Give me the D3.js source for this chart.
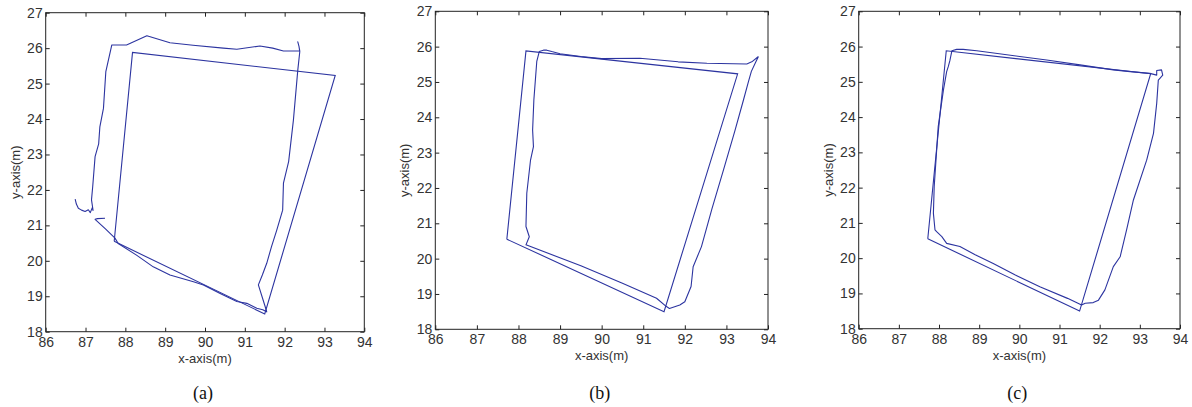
<!DOCTYPE html>
<html>
<head>
<meta charset="utf-8">
<script src="https://cdn.jsdelivr.net/npm/d3@7"></script>
<style>
  body { margin: 0; background: #fff; }
  svg { display: block; }
</style>
</head>
<body>
<div id="chart"></div>
<script>
// axis ticks (same for the three panels)
var xTicks = [86, 87, 88, 89, 90, 91, 92, 93, 94];
var yTicks = [18, 19, 20, 21, 22, 23, 24, 25, 26, 27];
var panelLabels = ["(a)", "(b)", "(c)"];

// reference quadrilateral, drawn in every panel
var refPath = [[87.72, 20.55], [88.18, 25.88], [93.27, 25.23], [91.5, 18.5], [87.72, 20.55]];

// estimated trajectory (a)
var estA = [
  [86.74, 21.74], [86.77, 21.6], [86.82, 21.48], [86.9, 21.43], [86.99, 21.39], [87.07, 21.44],
  [87.12, 21.36], [87.17, 21.5], [87.19, 21.42], [87.15, 21.72], [87.18, 22.09], [87.24, 22.94],
  [87.33, 23.3], [87.36, 23.78], [87.45, 24.3], [87.51, 25.34], [87.66, 26.09], [88.03, 26.09],
  [88.54, 26.35], [89.12, 26.15], [89.7, 26.08], [90.46, 26.0], [90.8, 25.97], [91.38, 26.06],
  [91.7, 26.0], [91.97, 25.92], [92.38, 25.92], [92.36, 26.05], [92.33, 26.18], [92.36, 26.05],
  [92.38, 25.9], [92.33, 25.38], [92.22, 23.97], [92.1, 22.8], [91.97, 22.19], [91.95, 21.43],
  [91.8, 20.86], [91.67, 20.4], [91.55, 19.93], [91.44, 19.6], [91.34, 19.32], [91.51, 18.71],
  [91.55, 18.56], [91.45, 18.62], [91.3, 18.66], [91.05, 18.8], [90.8, 18.85], [90.38, 19.08],
  [89.96, 19.32], [89.71, 19.41], [89.12, 19.6], [88.7, 19.83], [88.28, 20.16], [87.82, 20.49],
  [87.74, 20.64], [87.5, 20.9], [87.24, 21.17], [87.3, 21.19], [87.49, 21.2]
];

// estimated trajectory (b)
var estB = [
  [93.77, 25.72], [93.7, 25.55], [93.6, 25.3], [93.53, 25.01], [93.41, 24.49], [93.2, 23.6],
  [92.93, 22.51], [92.65, 21.4], [92.4, 20.34], [92.2, 19.77], [92.15, 19.21], [92.0, 18.78],
  [91.88, 18.69], [91.63, 18.59], [91.55, 18.65], [91.32, 18.88], [90.5, 19.3], [89.5, 19.8],
  [88.18, 20.39], [88.26, 20.62], [88.18, 20.91], [88.2, 21.85], [88.29, 22.79], [88.36, 23.17],
  [88.34, 23.64], [88.37, 24.49], [88.44, 25.58], [88.5, 25.86], [88.6, 25.9], [88.68, 25.9],
  [88.8, 25.86], [89.0, 25.8], [89.5, 25.72], [90.0, 25.66], [90.92, 25.67], [91.84, 25.57],
  [92.53, 25.53], [93.49, 25.51], [93.61, 25.57], [93.77, 25.72]
];

// estimated trajectory (c)
var estC = [
  [91.55, 18.67], [91.2, 18.86], [90.51, 19.19], [89.9, 19.52], [89.35, 19.85], [88.9, 20.1],
  [88.52, 20.33], [88.19, 20.42], [88.07, 20.61], [87.94, 20.75], [87.9, 20.8], [87.86, 21.27],
  [87.88, 22.03], [87.93, 22.88], [87.98, 23.73], [88.11, 24.77], [88.19, 25.29], [88.23, 25.43],
  [88.27, 25.6], [88.32, 25.88], [88.44, 25.92], [88.6, 25.92], [88.94, 25.88], [90.68, 25.62],
  [91.51, 25.48], [92.34, 25.34], [92.76, 25.29], [93.25, 25.24], [93.42, 25.19], [93.42, 25.32],
  [93.54, 25.34], [93.57, 25.19], [93.5, 25.1], [93.46, 25.05], [93.42, 24.39], [93.34, 23.54],
  [93.17, 22.78], [92.84, 21.65], [92.67, 20.8], [92.51, 20.04], [92.34, 19.76], [92.13, 19.1],
  [91.97, 18.81], [91.84, 18.74], [91.64, 18.72], [91.55, 18.67]
];

var estimates = [estA, estB, estC];

// plot boxes of the three panels, in page pixels
var boxes = [
  {left: 45.7, right: 364.3, top: 12.7, bottom: 331.7},
  {left: 435.3, right: 768, top: 11.3, bottom: 329.3},
  {left: 858.7, right: 1180, top: 11.3, bottom: 328.7}
];

var svg = d3.select("#chart")
  .append("svg")
    .attr("width", 1192)
    .attr("height", 407);

var lineColor = "#2c34a0";

boxes.forEach(function(b, i) {
  var x = d3.scaleLinear().domain([86, 94]).range([b.left, b.right]);
  var y = d3.scaleLinear().domain([18, 27]).range([b.bottom, b.top]);
  var g = svg.append("g");

  // inward ticks on all four sides
  g.append("g")
      .attr("transform", "translate(0," + b.bottom + ")")
      .call(d3.axisBottom(x).tickValues(xTicks).tickSize(-4).tickPadding(5).tickFormat(d3.format("d")));
  g.append("g")
      .attr("transform", "translate(" + b.left + ",0)")
      .call(d3.axisLeft(y).tickValues(yTicks).tickSize(-4).tickPadding(3).tickFormat(d3.format("d")));
  g.append("g")
      .attr("transform", "translate(0," + b.top + ")")
      .call(d3.axisTop(x).tickValues(xTicks).tickSize(-4).tickFormat(""));
  g.append("g")
      .attr("transform", "translate(" + b.right + ",0)")
      .call(d3.axisRight(y).tickValues(yTicks).tickSize(-4).tickFormat(""));

  g.selectAll(".domain").remove();
  g.selectAll(".tick line").attr("stroke", "#222");
  g.selectAll(".tick text")
      .attr("fill", "#333")
      .style("font-family", "'Liberation Sans', Arial, sans-serif")
      .style("font-size", "14px");

  g.append("rect")
      .attr("x", b.left)
      .attr("y", b.top)
      .attr("width", b.right - b.left)
      .attr("height", b.bottom - b.top)
      .attr("fill", "none")
      .attr("stroke", "#222")
      .attr("stroke-width", 1);

  var line = d3.line()
      .x(function(d) { return x(d[0]); })
      .y(function(d) { return y(d[1]); });

  g.append("path")
      .datum(refPath)
      .attr("d", line)
      .attr("fill", "none")
      .attr("stroke", lineColor)
      .attr("stroke-width", 1.1);

  g.append("path")
      .datum(estimates[i])
      .attr("d", line)
      .attr("fill", "none")
      .attr("stroke", lineColor)
      .attr("stroke-width", 1.1)
      .attr("stroke-linejoin", "round");

  var cx = (b.left + b.right) / 2;
  var cy = (b.top + b.bottom) / 2;

  g.append("text")
      .attr("x", cx)
      .attr("y", b.bottom + 31)
      .attr("text-anchor", "middle")
      .attr("fill", "#333")
      .style("font-family", "'Liberation Sans', Arial, sans-serif")
      .style("font-size", "13px")
      .text("x-axis(m)");

  g.append("text")
      .attr("transform", "translate(" + (b.left - 26) + "," + cy + ") rotate(-90)")
      .attr("text-anchor", "middle")
      .attr("fill", "#333")
      .style("font-family", "'Liberation Sans', Arial, sans-serif")
      .style("font-size", "13px")
      .text("y-axis(m)");

  g.append("text")
      .attr("x", cx - 2)
      .attr("y", 399)
      .attr("text-anchor", "middle")
      .attr("fill", "#111")
      .style("font-family", "'Liberation Serif', 'Times New Roman', serif")
      .style("font-size", "18px")
      .text(panelLabels[i]);
});
</script>
</body>
</html>
